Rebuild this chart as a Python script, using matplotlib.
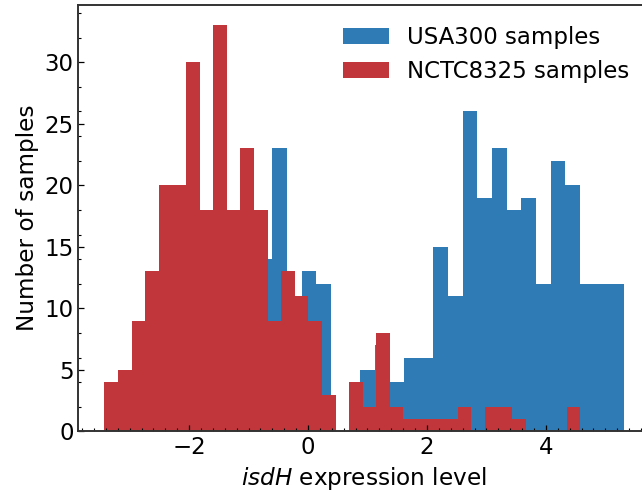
import numpy as np
import matplotlib
matplotlib.use("Agg")
import matplotlib.pyplot as plt
from matplotlib.ticker import MultipleLocator

# USA300 histogram (bin start, bin width, counts per bin)
usa300_bin_start = -3.309
usa300_bin_width = 0.2463
usa300_counts = [1, 0, 2, 2, 4, 5, 7, 9, 10, 12, 14,
                 23, 10, 13, 12, 0, 0, 5, 7, 4, 6, 6, 15, 11,
                 26, 19, 23, 18, 19, 12, 22, 20, 12, 12, 12]

# NCTC8325 histogram
nctc_bin_start = -3.424
nctc_bin_width = 0.2286
nctc_counts = [4, 5, 9, 13, 20, 20, 30, 18, 33, 18,
               23, 18, 9, 13, 11, 9, 3, 0, 4, 2,
               8, 2, 1, 1, 1, 1, 2, 0, 2, 2,
               1, 0, 0, 0, 2]

labels = ["USA300 samples", "NCTC8325 samples"]
colors = ["#2f7bb6", "#c1363b"]

fig = plt.figure(figsize=(6.42, 4.95), dpi=100)
ax = fig.add_axes([0.1222, 0.1283, 0.890, 0.8616])

for start, width, counts, lab, col in [
    (usa300_bin_start, usa300_bin_width, usa300_counts, labels[0], colors[0]),
    (nctc_bin_start, nctc_bin_width, nctc_counts, labels[1], colors[1]),
]:
    edges = start + width * np.arange(len(counts) + 1)
    ax.hist(edges[:-1], bins=edges, weights=counts, color=col, label=lab)

ax.xaxis.set_major_locator(MultipleLocator(2))
ax.xaxis.set_minor_locator(MultipleLocator(0.2))
ax.yaxis.set_major_locator(MultipleLocator(5))
ax.yaxis.set_minor_locator(MultipleLocator(2))
ax.tick_params(which="both", direction="in", labelsize=16.5)
ax.tick_params(which="major", length=4.2, width=0.9)
ax.tick_params(which="minor", length=2.4, width=0.8)
for s in ax.spines.values():
    s.set_linewidth(1.4)
    s.set_color("#333333")

ax.set_xlabel(r"$\mathit{isdH}$ expression level", fontsize=16.7)
ax.set_ylabel("Number of samples", fontsize=16.7)
ax.legend(loc="upper right", frameon=False, fontsize=16.5)

fig.savefig("out.png", dpi=100)
